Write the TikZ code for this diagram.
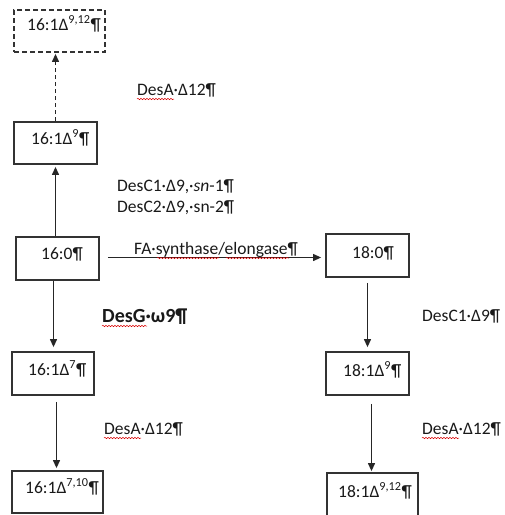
\documentclass[tikz,border=0pt]{standalone}
\usepackage{fontspec}
\setmainfont{Carlito}
\usetikzlibrary{arrows.meta,decorations.pathmorphing,calc}
\begin{document}
\begin{tikzpicture}[x=1pt,y=-1pt,
  box/.style={draw=black!80,line width=1.8pt,inner sep=0pt},
  dbox/.style={box,dash pattern=on 5pt off 3pt},
  tx/.style={inner sep=0pt,anchor=base west,text=black!90,font=\fontsize{17.5}{21}\selectfont},
  bigtx/.style={inner sep=0pt,anchor=base west,text=black!90,font=\fontsize{20}{24}\selectfont\bfseries},
  arr/.style={draw=black!85,line width=1.2pt,-{Triangle[width=7pt,length=8pt]}},
  squig/.style={draw=red!85!black,line width=0.5pt,decorate,decoration={snake,amplitude=0.7pt,segment length=3pt}}
]
\useasboundingbox (0,0) rectangle (505,515);
% boxes
\node[dbox,minimum width=91pt,minimum height=42pt] (dbox) at (59.5,31) {};
\node[box,minimum width=83pt,minimum height=42pt] (b9) at (55.5,143) {};
\node[box,minimum width=83pt,minimum height=43pt] (b0) at (57.5,258.5) {};
\node[box,minimum width=83pt,minimum height=43pt] (b18) at (367.5,255.5) {};
\node[box,minimum width=82pt,minimum height=43pt] (b7) at (53,373.5) {};
\node[box,minimum width=83pt,minimum height=43pt] (b189) at (367.5,373.5) {};
\node[box,minimum width=91pt,minimum height=42pt] (b710) at (57.5,492) {};
\node[box,minimum width=91pt,minimum height=46pt] (b1912) at (372.5,496) {};
% box texts
\node[tx] (tdbox) at (27,30) {16:1Δ\textsuperscript{9,12}¶};
\node[tx] (tb9) at (31,144) {16:1Δ\textsuperscript{9}¶};
\node[tx] (tb0) at (41,259) {16:0¶};
\node[tx] (tb18) at (352,258) {18:0¶};
\node[tx] (tb7) at (28,375) {16:1Δ\textsuperscript{7}¶};
\node[tx] (tb189) at (343,376) {18:1Δ\textsuperscript{9}¶};
\node[tx] (tb710) at (25,493) {16:1Δ\textsuperscript{7,10}¶};
\node[tx] (tb1912) at (338,497) {18:1Δ\textsuperscript{9,12}¶};
% arrows
\draw[arr,dash pattern=on 4pt off 3pt] (b9.north) -- ([yshift=-1pt]b9.north |- dbox.south);
\draw[arr] (b9.south |- b0.north) -- ([yshift=-2pt]b9.south);
\draw[arr] ([xshift=8pt,yshift=1pt]b0.east) -- ([xshift=-4pt,yshift=1pt]b0.east -| b18.west);
\draw[arr] ([xshift=0.5pt]b7.north |- b0.south) -- ([xshift=0.5pt,yshift=4pt]b7.north);
\draw[arr] ([yshift=-5pt]b18.south) -- ([yshift=4pt]b189.north);
\draw[arr] ([xshift=3.5pt,yshift=-6pt]b7.south) -- ([xshift=3.5pt,yshift=2pt]b7.south |- b710.north);
\draw[arr] ([xshift=4pt,yshift=-8pt]b189.south) -- ([xshift=4pt,yshift=1pt]b189.south |- b1912.north);
% labels
\node[tx] (lA1) at (137,95) {DesA·Δ12¶};
\node[tx] (lC1) at (117,191) {DesC1·Δ9,·\textit{sn}-1¶};
\node[tx] (lC2) at (117,212) {DesC2·Δ9,·sn-2¶};
\node[tx] (lFA) at (134,254) {FA·synthase/elongase¶};
\node[bigtx] (lG) at (102,322) {DesG·ω9¶};
\node[tx] (lC1r) at (422,321) {DesC1·Δ9¶};
\node[tx] (lA2) at (104,434) {DesA·Δ12¶};
\node[tx] (lA3) at (422,434) {DesA·Δ12¶};
% spell-check underlines
\draw[squig] ([yshift=-4pt]lA1.base west) -- ([xshift=37pt,yshift=-4pt]lA1.base west);
\draw[squig] ([yshift=-4pt]lA2.base west) -- ([xshift=37pt,yshift=-4pt]lA2.base west);
\draw[squig] ([yshift=-4pt]lA3.base west) -- ([xshift=37pt,yshift=-4pt]lA3.base west);
\draw[squig] ([yshift=-4pt]lG.base west) -- ([xshift=45pt,yshift=-4pt]lG.base west);
\draw[squig] ([xshift=23pt,yshift=-4pt]lFA.base west) -- ([xshift=85pt,yshift=-4pt]lFA.base west);
\draw[squig] ([xshift=92pt,yshift=-4pt]lFA.base west) -- ([xshift=155pt,yshift=-4pt]lFA.base west);
\end{tikzpicture}
\end{document}
